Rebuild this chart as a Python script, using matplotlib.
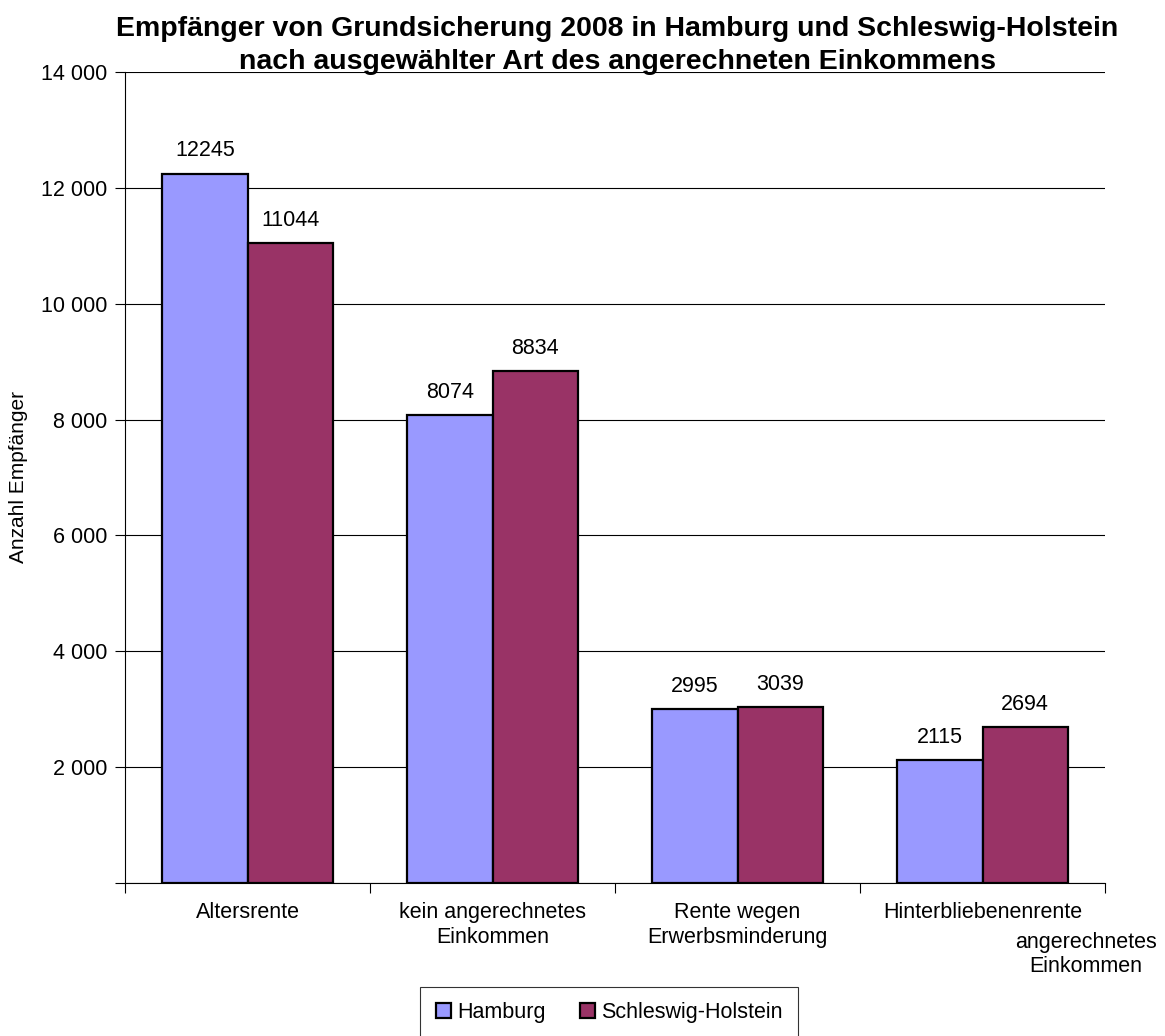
import numpy as np
import matplotlib.pyplot as plt
from matplotlib.ticker import FuncFormatter, FixedLocator

plt.rcParams['font.family'] = ['Liberation Sans', 'DejaVu Sans']

# Daten
kategorien = ["Altersrente", "kein angerechnetes\nEinkommen",
              "Rente wegen\nErwerbsminderung", "Hinterbliebenenrente"]
hamburg = [12245, 8074, 2995, 2115]
schleswig_holstein = [11044, 8834, 3039, 2694]
serien = ["Hamburg", "Schleswig-Holstein"]
farben = ["#9999FF", "#993366"]

fig = plt.figure(figsize=(11.65, 10.36), dpi=100)
ax = fig.add_axes([0.1073, 0.1477, 0.8412, 0.7828])

x = np.arange(len(kategorien))
breite = 0.347
for i, (werte, name, farbe) in enumerate(zip([hamburg, schleswig_holstein], serien, farben)):
    pos = x + (i - 0.5) * breite
    ax.bar(pos, werte, breite, color=farbe, edgecolor="black", linewidth=1.6,
           label=name, zorder=3)
    for p, w in zip(pos, werte):
        ax.text(p, w + 210, str(w), ha="center", va="bottom", fontsize=15.5)

ax.set_xlim(-0.5, len(kategorien) - 0.5)
ax.set_ylim(0, 14000)
ax.set_yticks(np.arange(0, 14001, 2000))
ax.yaxis.set_major_formatter(FuncFormatter(
    lambda v, _: "" if v == 0 else f"{int(v):,}".replace(",", " ")))
ax.grid(axis="y", color="black", linewidth=0.8, zorder=0)

ax.set_xticks(x)
ax.set_xticklabels(kategorien, fontsize=15.5)
ax.tick_params(axis="x", length=0, pad=14)
ax.xaxis.set_minor_locator(FixedLocator(np.arange(-0.5, len(kategorien), 1.0)))
ax.tick_params(axis="x", which="minor", length=7, color="black", width=0.8)
ax.tick_params(axis="y", labelsize=15.5, length=7, width=0.8, pad=6)

# zweite Zeile des letzten Labels steht versetzt
ax.text(3.422, -0.060, "angerechnetes\nEinkommen", transform=ax.get_xaxis_transform(),
        ha="center", va="top", fontsize=15.5, linespacing=1.2)

for s in ["top", "right"]:
    ax.spines[s].set_visible(False)
ax.spines["left"].set_linewidth(0.8)
ax.spines["bottom"].set_linewidth(0.8)

ax.set_ylabel("Anzahl Empfänger", fontsize=15, labelpad=9)
fig.text(0.530, 0.985, "Empfänger von Grundsicherung 2008 in Hamburg und Schleswig-Holstein\n"
         "nach ausgewählter Art des angerechneten Einkommens",
         ha="center", va="top", fontsize=20.5, fontweight="bold", linespacing=1.35)

leg = fig.legend(loc="lower center", bbox_to_anchor=(0.523, -0.012), ncol=2, fontsize=15.5,
                 frameon=True, fancybox=False, edgecolor="black", handlelength=0.7,
                 handleheight=0.7, handletextpad=0.3, columnspacing=1.6,
                 borderpad=0.7)
leg.get_frame().set_linewidth(0.8)

fig.savefig("out.png", dpi=100)
